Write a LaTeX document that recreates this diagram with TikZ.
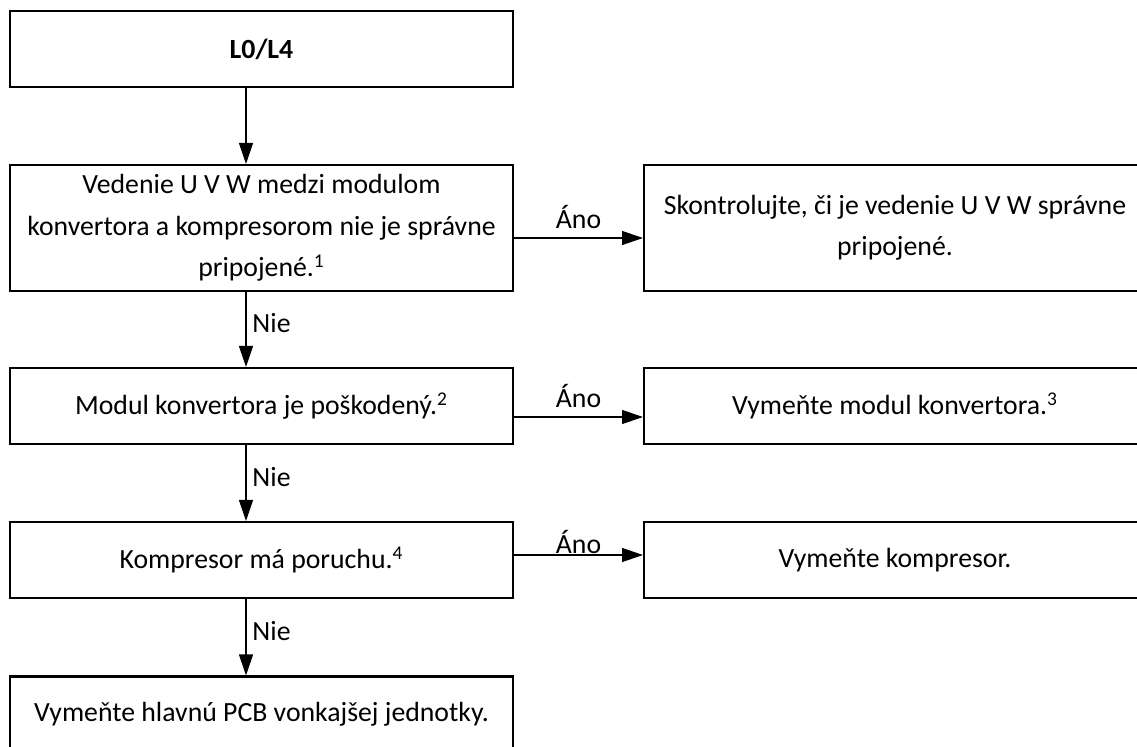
\documentclass[tikz,border=0pt]{standalone}
\usepackage{fontspec}
\setmainfont{Carlito}
\usetikzlibrary{arrows.meta}

\begin{document}
\begin{tikzpicture}[
		x=0.02cm, y=-0.02cm,
		font=\fontsize{15.8pt}{23.5pt}\selectfont,
		box/.style={
				draw,
				line width=1.2pt,
				minimum width=10.06cm,
				minimum height=1.52cm,
				align=center,
				inner sep=2pt
			},
		tallbox/.style={
				box,
				minimum height=2.52cm
			},
		flow/.style={
		-{Triangle[length=0.42cm, width=0.28cm]},
		line width=0.7pt
		}
		]

	\useasboundingbox (0,0) rectangle (1137,747);

	% ================= lavy stlpec: otazky =================
	\node[box]     (start)      at (261.5,49)    {\textbf{L0/L4}};
	\node[tallbox] (wiring)     at (261.5,228)   {Vedenie U V W medzi modulom\\konvertora a kompresorom nie je správne\\pripojené.\textsuperscript{1}};
	\node[box]     (module)     at (261.5,406)   {Modul konvertora je poškodený.\textsuperscript{2}};
	\node[box]     (compressor) at (261.5,560)   {Kompresor má poruchu.\textsuperscript{4}};
	\node[box]     (mainpcb)    at (261.5,714.5) {Vymeňte hlavnú PCB vonkajšej jednotky.};

	% ================= pravy stlpec: opatrenia =================
	\node[tallbox, minimum width=10.04cm] (checkuvw)  at (895,228) {Skontrolujte, či je vedenie U V W správne\\pripojené.};
	\node[box, minimum width=10.04cm]     (newmodule) at (895,406) {Vymeňte modul konvertora.\textsuperscript{3}};
	\node[box, minimum width=10.04cm]     (newcomp)   at (895,560) {Vymeňte kompresor.};

	% ================= vetva Nie =================
	\draw[flow] ([xshift=-0.31cm]start.south) -- ([xshift=-0.31cm]wiring.north);
	\draw[flow] ([xshift=-0.31cm]wiring.south)
	-- node[right, pos=0.42] {Nie} ([xshift=-0.31cm]module.north);
	\draw[flow] ([xshift=-0.31cm]module.south)
	-- node[right, pos=0.42] {Nie} ([xshift=-0.31cm]compressor.north);
	\draw[flow] ([xshift=-0.31cm]compressor.south)
	-- node[right, pos=0.42] {Nie} ([xshift=-0.31cm]mainpcb.north);

	% ================= vetva Áno =================
	\draw[flow] ([yshift=-0.2cm]wiring.east)
	-- node[above, yshift=0.06cm] {Áno} ([yshift=-0.2cm]checkuvw.west);
	\draw[flow] ([yshift=-0.22cm]module.east)
	-- node[above, yshift=0.06cm] {Áno} ([yshift=-0.22cm]newmodule.west);
	\draw[flow] ([yshift=0.1cm]compressor.east)
	-- node[above, yshift=-0.1cm] {Áno} ([yshift=0.1cm]newcomp.west);

\end{tikzpicture}
\end{document}
